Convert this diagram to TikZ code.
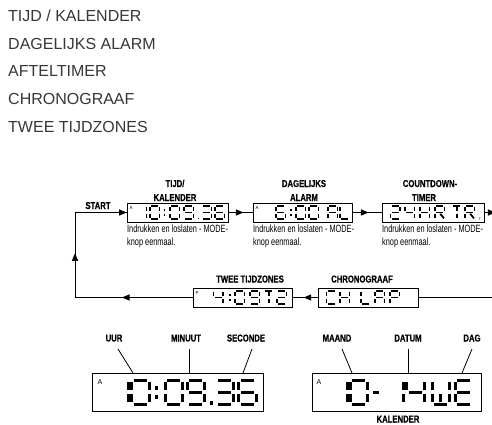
\documentclass[tikz,border=0pt]{standalone}
\usepackage{fontspec}
\setmainfont{Liberation Sans}
\newfontface\condb[FakeStretch=0.77,FakeBold=0.6]{Liberation Sans Bold}
\newfontface\condr[FakeStretch=0.7]{Liberation Sans}
\usetikzlibrary{decorations.markings}
\definecolor{listgray}{RGB}{55,55,55}
\def\sgpa{(0.13,0)--(0.87,0)}
\def\sgpb{(1,0.08)--(1,0.42)}
\def\sgpc{(1,0.58)--(1,0.92)}
\def\sgpd{(0.13,1)--(0.87,1)}
\def\sgpe{(0,0.58)--(0,0.92)}
\def\sgpf{(0,0.08)--(0,0.42)}
\def\sgpg{(0.13,0.5)--(0.87,0.5)}
\def\sgpm{(0.5,0.08)--(0.5,0.42)}
\def\sgpn{(0.5,0.58)--(0.5,0.92)}
\def\sgpr{(0.55,0.6)--(0.95,0.95)}
\newcommand\segs[6]{%
  \begin{scope}[shift={(#1,#2)},xscale=#3,yscale=#4]
    \foreach \s in {#6}{\draw[line width=#5pt,line cap=butt] \csname sgp\s\endcsname;}
  \end{scope}}
\newcommand\lcddot[3]{\fill (#1-#3/2,#2-#3/2) rectangle ++(#3,#3);}
\tikzset{
  lcdsmall/.style={draw,line width=0.8pt,inner sep=0pt,minimum height=19pt},
  lcdbig/.style={draw,line width=0.8pt,inner sep=0pt,minimum height=38pt},
  listtext/.style={anchor=base west,inner sep=0pt,text=listgray,font=\fontsize{16}{16}\selectfont},
  lbl/.style={anchor=base,inner sep=0pt,font=\condb\fontsize{10}{10}\selectfont},
  desc/.style={anchor=base west,inner sep=0pt,font=\condr\fontsize{10.5}{11}\selectfont},
  tiny/.style={inner sep=0pt,font=\fontsize{4.5}{5}\selectfont},
  conn/.style={line width=0.8pt},
  midarrow/.style={postaction={decorate},decoration={markings,mark=at position #1 with {\fill (0pt,0pt) -- (-7.5pt,3.2pt) -- (-7.5pt,-3.2pt) -- cycle;}}},
}
\begin{document}
\begin{tikzpicture}[x=1pt,y=-1pt]
\useasboundingbox[fill=white] (0,0) rectangle (492,425);
% list
\node[listtext] (l1) at (8,22) {TIJD / KALENDER};
\node[listtext] (l2) at (8,49.5) {DAGELIJKS ALARM};
\node[listtext] (l3) at (8,77) {AFTELTIMER};
\node[listtext] (l4) at (8,104.5) {CHRONOGRAAF};
\node[listtext] (l5) at (8,132) {TWEE TIJDZONES};
% row 1 boxes
\node[lcdsmall,minimum width=101pt] (b1) at (177.5,212.5) {};
\node[lcdsmall,minimum width=99pt] (b2) at (302.5,212.5) {};
\node[lcdsmall,minimum width=102pt] (b3) at (433,212.5) {};
% row 2 boxes
\node[lcdsmall,minimum width=99pt] (tz) at (242.5,297.5) {};
\node[lcdsmall,minimum width=100pt] (ch) at (368,297.5) {};
% bottom boxes
\node[lcdbig,minimum width=171pt] (bl) at (177.5,392) {};
\node[lcdbig,minimum width=169pt] (br) at (396.5,392) {};
% labels row 1
\node[lbl] (t1a) at (175,187) {TIJD/};
\node[lbl] (t1b) at (175,201) {KALENDER};
\node[lbl] (t2a) at (304,187) {DAGELIJKS};
\node[lbl] (t2b) at (304,201) {ALARM};
\node[lbl] (t3a) at (430,187) {COUNTDOWN-};
\node[lbl] (t3b) at (424,201) {TIMER};
\node[lbl] (start) at (98,209) {START};
\node[lbl] (t4) at (250,282.5) {TWEE TIJDZONES};
\node[lbl] (t5) at (362,282.5) {CHRONOGRAAF};
% descriptions
\node[desc] (d1a) at (127,232.5) {Indrukken en loslaten - MODE-};
\node[desc] (d1b) at (127,245.5) {knop eenmaal.};
\node[desc] (d2a) at (253,232.5) {Indrukken en loslaten - MODE-};
\node[desc] (d2b) at (253,245.5) {knop eenmaal.};
\node[desc] (d3a) at (382,232.5) {Indrukken en loslaten - MODE-};
\node[desc] (d3b) at (382,245.5) {knop eenmaal.};
% connectors
\coordinate (rt) at (497,212.5);
\coordinate (rb) at (497,297.5);
\coordinate (lb) at (75,297.5);
\coordinate (lt) at (75,212.5);
\draw[conn,midarrow=0.62] (b1.east) -- (b2.west);
\draw[conn,midarrow=0.55] (b2.east) -- (b3.west);
\draw[conn,midarrow=11pt] (b3.east) -- (rt);
\draw[conn] (rt) -- (rb) -- (ch.east);
\draw[conn,midarrow=0.55] (ch.west) -- (tz.east);
\draw[conn,midarrow=0.6] (tz.west) -- (lb);
\draw[conn,midarrow=0.52] (lb) -- (lt);
\draw[conn,midarrow=1] (lt) -- (b1.west);
% box 1 : 10:09.36
\node[tiny] (a1) at (131,207.5) {A};
\segs{137}{206}{9.5}{13}{1.8}{b,c}
\segs{150}{206}{9.5}{13}{1.8}{a,b,c,d,e,f}
\lcddot{164.5}{210}{1.8}\lcddot{164.5}{215}{1.8}
\segs{170}{206}{9.5}{13}{1.8}{a,b,c,d,e,f}
\segs{184}{206}{9.5}{13}{1.8}{a,b,c,d,f,g}
\lcddot{198.5}{218.5}{1.8}
\segs{202}{206}{9.5}{13}{1.8}{a,b,g,c,d}
\segs{215}{206}{9.5}{13}{1.8}{a,f,g,e,c,d}
% box 2 : 6:00 AL
\node[tiny] (a2) at (257,207.5) {A};
\segs{276}{206}{9.5}{13}{1.8}{a,f,g,e,c,d}
\lcddot{291}{210}{1.8}\lcddot{291}{215}{1.8}
\segs{296}{206}{9.5}{13}{1.8}{a,b,c,d,e,f}
\segs{309}{206}{9.5}{13}{1.8}{a,b,c,d,e,f}
\segs{328}{206}{9.5}{13}{1.8}{a,b,c,e,f,g}
\segs{340}{206}{9.5}{13}{1.8}{f,e,d}
% box 3 : 24HRTR
\segs{390.5}{206}{9.5}{13}{1.8}{a,b,g,e,d}
\segs{405}{206}{9.5}{13}{1.8}{f,g,b,c}
\segs{420}{206}{9.5}{13}{1.8}{f,e,b,c,g}
\segs{435}{206}{9.5}{13}{1.8}{a,b,f,g,e,r}
\segs{452}{206}{9.5}{13}{1.8}{a,m,n}
\segs{465}{206}{9.5}{13}{1.8}{a,b,f,g,e,r}
\node[tiny,font=\fontsize{3.5}{4}\selectfont] (tt) at (480,219) {T};
% two time zones : 4:09T2
\node[tiny] (p1) at (197,292.5) {P};
\segs{213.5}{291}{9.5}{13}{1.8}{f,g,b,c}
\lcddot{230}{295}{1.8}\lcddot{230}{300}{1.8}
\segs{235}{291}{9.5}{13}{1.8}{a,b,c,d,e,f}
\segs{250}{291}{9.5}{13}{1.8}{a,b,c,d,f,g}
\segs{264}{291}{9.5}{13}{1.8}{a,m,n}
\segs{277}{291}{9.5}{13}{1.8}{a,b,g,e,d}
% chrono : CH LAP
\segs{326.5}{291}{9.5}{13}{1.8}{a,f,e,d}
\segs{340}{291}{9.5}{13}{1.8}{f,e,b,c,g}
\segs{361}{291}{9.5}{13}{1.8}{f,e,d}
\segs{375}{291}{9.5}{13}{1.8}{a,b,c,e,f,g}
\segs{390}{291}{9.5}{13}{1.8}{a,b,f,g,e}
% bottom left : 10:09.36
\node[tiny,font=\fontsize{7}{8}\selectfont] (a3) at (100,382) {A};
\segs{110.5}{380}{17.5}{24}{3}{b,c}
\segs{131.5}{380}{17.5}{24}{3}{a,b,c,d,e,f}
\lcddot{156.5}{388}{3.2}\lcddot{156.5}{397}{3.2}
\segs{165}{380}{17.5}{24}{3}{a,b,c,d,e,f}
\segs{187}{380}{17.5}{24}{3}{a,b,c,d,f,g}
\lcddot{211.5}{403}{3.2}
\segs{216}{380}{17.5}{24}{3}{a,b,g,c,d}
\segs{238.5}{380}{17.5}{24}{3}{a,f,g,e,c,d}
% bottom right : 10- 14WE
\node[tiny,font=\fontsize{7}{8}\selectfont] (a4) at (319,382) {A};
\segs{329.5}{380}{17.5}{24}{3}{b,c}
\segs{350}{380}{17.5}{24}{3}{a,b,c,d,e,f}
\draw[line width=3pt] (373,392) -- (379,392);
\segs{385.5}{380}{17.5}{24}{3}{b,c}
\segs{406.5}{380}{17.5}{24}{3}{f,g,b,c}
\segs{432}{380}{17.5}{24}{3}{f,e,d,c,b,n}
\segs{455}{380}{17.5}{24}{3}{a,f,g,e,d}
% bottom labels and leaders
\node[lbl] (uur) at (114,341.5) {UUR};
\node[lbl] (min) at (186,341.5) {MINUUT};
\node[lbl] (sec) at (246,341.5) {SECONDE};
\node[lbl] (maand) at (337,341.5) {MAAND};
\node[lbl] (datum) at (408,341.5) {DATUM};
\node[lbl] (dag) at (472,341.5) {DAG};
\node[lbl] (kal) at (398,422.5) {KALENDER};
\coordinate (u1) at (118,349); \coordinate (u2) at (133,373);
\coordinate (m1) at (189,349); \coordinate (m2) at (189,373);
\coordinate (s1) at (252,349); \coordinate (s2) at (243,373);
\coordinate (ma1) at (342,349); \coordinate (ma2) at (352,373);
\coordinate (da1) at (408,349); \coordinate (da2) at (408,373);
\coordinate (dg1) at (472,349); \coordinate (dg2) at (462,373);
\draw[conn] (u1) -- (u2);
\draw[conn] (m1) -- (m2);
\draw[conn] (s1) -- (s2);
\draw[conn] (ma1) -- (ma2);
\draw[conn] (da1) -- (da2);
\draw[conn] (dg1) -- (dg2);
\end{tikzpicture}
\end{document}
